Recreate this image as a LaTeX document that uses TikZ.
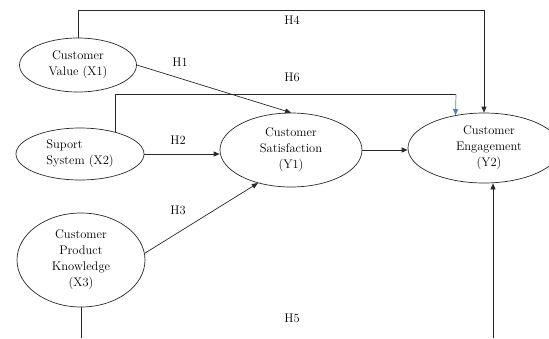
\documentclass[tikz,border=0pt]{standalone}
\usetikzlibrary{shapes.geometric,arrows.meta}
\definecolor{linegray}{RGB}{40,40,40}
\definecolor{wordblue}{RGB}{79,129,189}
\begin{document}
\begin{tikzpicture}[x=1pt,y=-1pt,
  font=\fontsize{12.5}{16}\selectfont,
  var/.style={ellipse,draw=linegray,line width=0.7pt,inner sep=0pt,align=center},
  conn/.style={draw=linegray,line width=0.7pt},
  arr/.style={conn,-{Triangle[length=6pt,width=5pt]}},
  hlab/.style={inner sep=0pt}]
\useasboundingbox (0,0) rectangle (549,338);
\node[var,minimum width=117pt,minimum height=54pt] (X1) at (78,65) {Customer\\Value (X1)};
\node[var,minimum width=128pt,minimum height=52pt,align=left] (X2) at (80,154) {Suport\\System (X2)};
\node[var,minimum width=128pt,minimum height=94pt] (X3) at (81,260) {Customer\\Product\\Knowledge\\(X3)};
\node[var,minimum width=142pt,minimum height=74pt] (Y1) at (291,150) {Customer\\Satisfaction\\(Y1)};
\node[var,minimum width=152pt,minimum height=70pt] (Y2) at (484,148) {\hspace*{10pt}Customer\\\hspace*{10pt}Engagement\\\hspace*{10pt}(Y2)};
\coordinate (h4a) at (78,10);
\coordinate (h6c) at (456,94);
\coordinate (b3) at (81,338);
\coordinate (b5) at (493,338);
% H4
\draw[arr] (X1.north) -- (h4a) -| (Y2.north);
% H6
\draw[conn] (X2.32) |- (h6c);
\draw[draw=wordblue,line width=0.7pt,-{Triangle[length=6pt,width=5pt]}] (h6c) -- (Y2.131);
% H1
\draw[arr] (X1.east) -- (Y1.north);
% H2
\draw[arr] (X2.east) -- (X2.east -| Y1.west);
% Y1 -> Y2
\draw[arr] (Y1.east) -- (Y1.east -| Y2.west);
% H3
\draw[arr] (X3.6) -- (Y1.225);
% H5
\draw[conn] (X3.south) -- (X3.south |- b3);
\draw[arr] (b5) -- (b5 |- Y2.south);
% labels
\node[hlab] (lH4) at (292,20) {H4};
\node[hlab] (lH1) at (180,62) {H1};
\node[hlab] (lH6) at (292,77) {H6};
\node[hlab] (lH2) at (178,140) {H2};
\node[hlab] (lH3) at (178,210) {H3};
\node[hlab] (lH5) at (292,318) {H5};
\end{tikzpicture}
\end{document}
